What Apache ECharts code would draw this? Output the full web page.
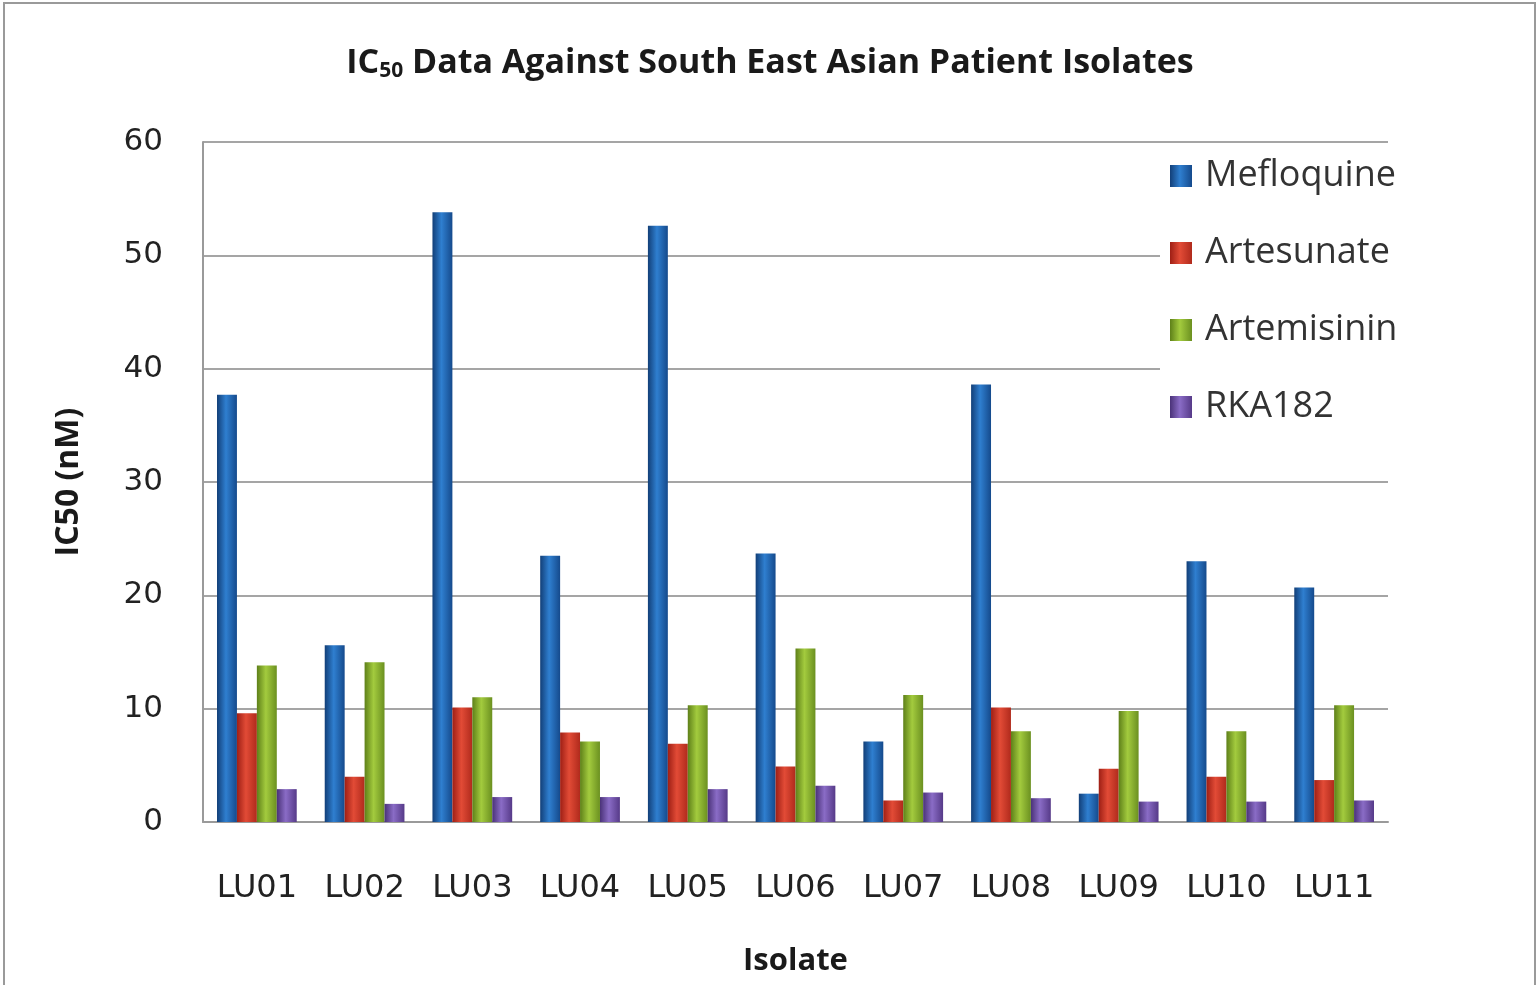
<!DOCTYPE html>
<html>
<head>
<meta charset="utf-8">
<script src="https://cdn.jsdelivr.net/npm/echarts@6/dist/echarts.min.js"></script>
<style>
  html, body { margin: 0; padding: 0; background: #fff; }
  #chart { width: 1540px; height: 985px; }
</style>
</head>
<body>
<div id="chart"></div>
<script>
const categories = ['LU01','LU02','LU03','LU04','LU05','LU06','LU07','LU08','LU09','LU10','LU11'];
const seriesNames = ['Mefloquine','Artesunate','Artemisinin','RKA182'];
const mefloquine  = [37.7, 15.6, 53.8, 23.5, 52.6, 23.7, 7.1, 38.6, 2.5, 23.0, 20.7];
const artesunate  = [9.6, 4.0, 10.1, 7.9, 6.9, 4.9, 1.9, 10.1, 4.7, 4.0, 3.7];
const artemisinin = [13.8, 14.1, 11.0, 7.1, 10.3, 15.3, 11.2, 8.0, 9.8, 8.0, 10.3];
const rka182      = [2.9, 1.6, 2.2, 2.2, 2.9, 3.2, 2.6, 2.1, 1.8, 1.8, 1.9];
const yTicks = [0, 10, 20, 30, 40, 50, 60];

const palettes = [
  ['#123f78', '#2f7fd0', '#154a8c'],
  ['#9e1f15', '#e24b36', '#b02a1c'],
  ['#5e8019', '#a3cb3e', '#6b9020'],
  ['#4a3278', '#8a6cc6', '#563a88']
];
function grad(p) {
  return new echarts.graphic.LinearGradient(0, 0, 1, 0, [
    { offset: 0, color: p[0] },
    { offset: 0.45, color: p[1] },
    { offset: 1, color: p[2] }
  ]);
}
const dataSets = [mefloquine, artesunate, artemisinin, rka182];

const chart = echarts.init(document.getElementById('chart'));
chart.setOption({
  animation: false,
  backgroundColor: '#fff',
  title: {
    text: '{a|IC}{s|50}{a| Data Against South East Asian Patient Isolates}',
    left: 'center',
    top: 40,
    textStyle: {
      rich: {
        a: { fontFamily: 'Open Sans', fontWeight: 'bold', fontSize: 34, color: '#1a1a1a' },
        s: { fontFamily: 'Open Sans', fontWeight: 'bold', fontSize: 21, color: '#1a1a1a', padding: [16, 0, 0, 0] }
      }
    }
  },
  graphic: [{
    type: 'rect',
    shape: { x: 4, y: 3, width: 1531, height: 990 },
    style: { fill: 'none', stroke: '#9a9a9a', lineWidth: 2 },
    silent: true, z: -10
  }],
  legend: {
    orient: 'vertical',
    left: 1160,
    top: 152,
    data: seriesNames,
    icon: 'rect',
    itemWidth: 22,
    itemHeight: 22,
    itemGap: 37,
    backgroundColor: '#fff',
    padding: [4, 20, 4, 10],
    textStyle: { fontFamily: 'Open Sans', fontSize: 36, color: '#333', lineHeight: 40, padding: [0, 0, 0, 8] }
  },
  grid: { left: 203, right: 152, top: 142, bottom: 163 },
  xAxis: {
    type: 'category',
    data: categories,
    name: 'Isolate',
    nameLocation: 'middle',
    nameGap: 124,
    nameTextStyle: { fontFamily: 'Open Sans', fontWeight: 'bold', fontSize: 31, color: '#1a1a1a' },
    axisLine: { lineStyle: { color: '#9a9a9a', width: 2 } },
    axisTick: { show: false },
    axisLabel: { fontFamily: 'DejaVu Sans', fontSize: 32, color: '#222', margin: 51 }
  },
  yAxis: {
    type: 'value',
    min: 0, max: 60, interval: 10,
    name: 'IC50 (nM)',
    nameLocation: 'middle',
    nameGap: 118,
    nameTextStyle: { fontFamily: 'Open Sans', fontWeight: 'bold', fontSize: 32, color: '#1a1a1a' },
    axisLine: { show: true, lineStyle: { color: '#9a9a9a', width: 2 } },
    axisTick: { show: false },
    axisLabel: {
      fontFamily: 'DejaVu Sans', fontSize: 31, color: '#222', margin: 40,
      formatter: v => yTicks.includes(v) ? String(v) : ''
    },
    splitLine: { lineStyle: { color: '#a5a5a5', width: 2 } }
  },
  series: seriesNames.map((n, i) => ({
    name: n,
    type: 'bar',
    data: dataSets[i],
    barGap: '0%',
    barCategoryGap: '26%',
    itemStyle: { color: grad(palettes[i]) }
  }))
});
</script>
</body>
</html>
